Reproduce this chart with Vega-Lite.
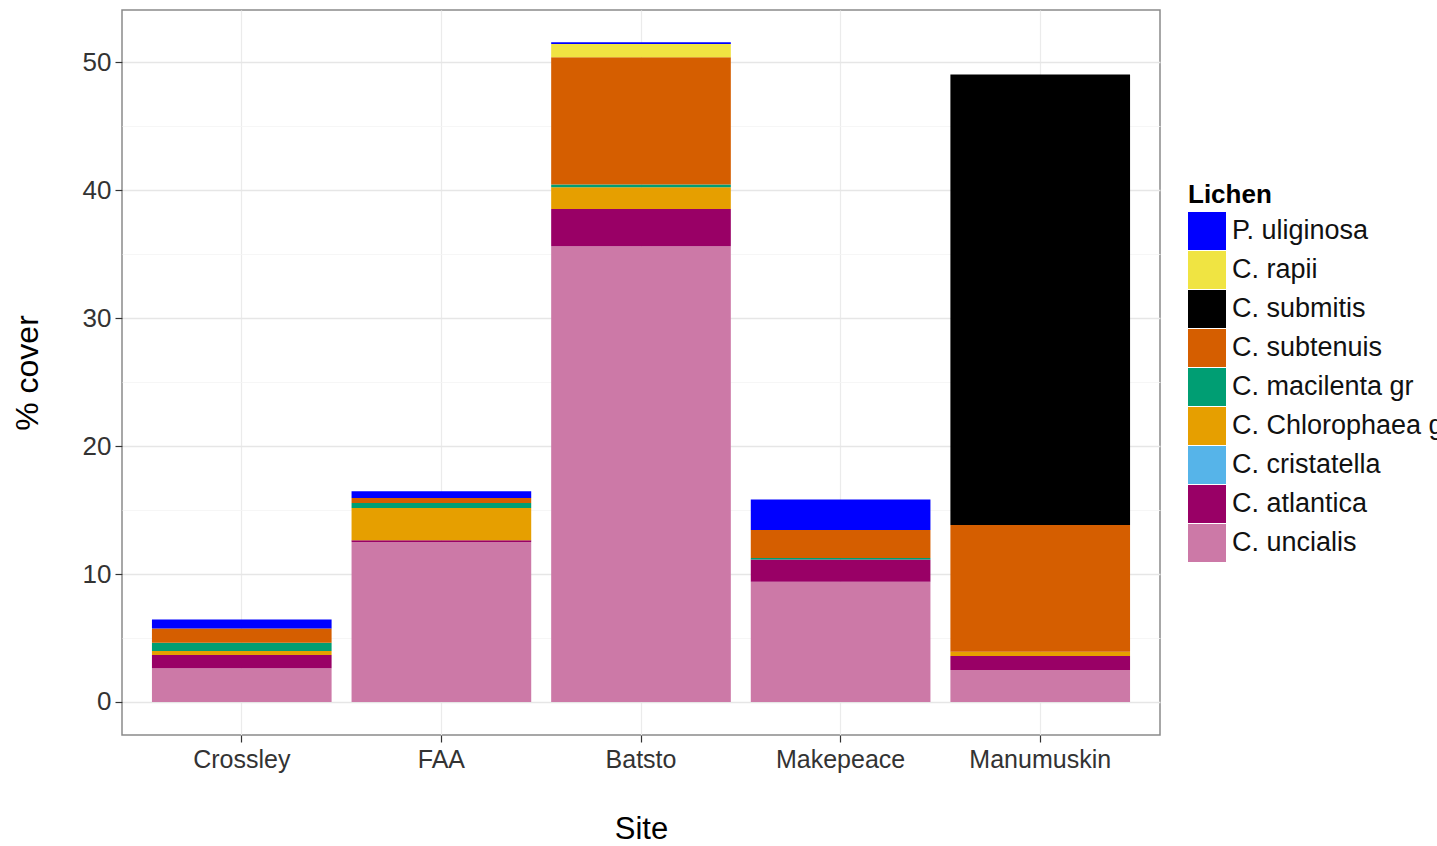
{
  "$schema": "https://vega.github.io/schema/vega-lite/v6.json",
  "width": 1038,
  "height": 725,
  "autosize": {"type": "none"},
  "padding": {"left": 122, "top": 10, "right": 277, "bottom": 111},
  "background": "white",
  "config": {
    "font": "Liberation Sans",
    "view": {"stroke": "#8a8a8a", "strokeWidth": 1.5}
  },
  "data": {
    "values": [
      {"Site": "Crossley", "Lichen": "C. uncialis", "cover": 2.63},
      {"Site": "Crossley", "Lichen": "C. atlantica", "cover": 1.04},
      {"Site": "Crossley", "Lichen": "C. Chlorophaea gr", "cover": 0.31},
      {"Site": "Crossley", "Lichen": "C. macilenta gr", "cover": 0.65},
      {"Site": "Crossley", "Lichen": "C. subtenuis", "cover": 1.12},
      {"Site": "Crossley", "Lichen": "P. uliginosa", "cover": 0.70},
      {"Site": "FAA", "Lichen": "C. uncialis", "cover": 12.5},
      {"Site": "FAA", "Lichen": "C. atlantica", "cover": 0.15},
      {"Site": "FAA", "Lichen": "C. Chlorophaea gr", "cover": 2.52},
      {"Site": "FAA", "Lichen": "C. macilenta gr", "cover": 0.39},
      {"Site": "FAA", "Lichen": "C. subtenuis", "cover": 0.39},
      {"Site": "FAA", "Lichen": "P. uliginosa", "cover": 0.52},
      {"Site": "Batsto", "Lichen": "C. uncialis", "cover": 35.63},
      {"Site": "Batsto", "Lichen": "C. atlantica", "cover": 2.91},
      {"Site": "Batsto", "Lichen": "C. Chlorophaea gr", "cover": 1.70},
      {"Site": "Batsto", "Lichen": "C. macilenta gr", "cover": 0.21},
      {"Site": "Batsto", "Lichen": "C. subtenuis", "cover": 9.95},
      {"Site": "Batsto", "Lichen": "C. rapii", "cover": 1.04},
      {"Site": "Batsto", "Lichen": "P. uliginosa", "cover": 0.13},
      {"Site": "Makepeace", "Lichen": "C. uncialis", "cover": 9.40},
      {"Site": "Makepeace", "Lichen": "C. atlantica", "cover": 1.75},
      {"Site": "Makepeace", "Lichen": "C. macilenta gr", "cover": 0.1},
      {"Site": "Makepeace", "Lichen": "C. subtenuis", "cover": 2.19},
      {"Site": "Makepeace", "Lichen": "P. uliginosa", "cover": 2.40},
      {"Site": "Manumuskin", "Lichen": "C. uncialis", "cover": 2.5},
      {"Site": "Manumuskin", "Lichen": "C. atlantica", "cover": 1.09},
      {"Site": "Manumuskin", "Lichen": "C. Chlorophaea gr", "cover": 0.34},
      {"Site": "Manumuskin", "Lichen": "C. subtenuis", "cover": 9.90},
      {"Site": "Manumuskin", "Lichen": "C. submitis", "cover": 35.23}
    ]
  },
  "transform": [
    {"calculate": "indexof(['C. uncialis','C. atlantica','C. cristatella','C. Chlorophaea gr','C. macilenta gr','C. subtenuis','C. submitis','C. rapii','P. uliginosa'], datum.Lichen)", "as": "stackOrder"}
  ],
  "mark": {"type": "bar"},
  "encoding": {
    "x": {
      "field": "Site",
      "type": "nominal",
      "sort": ["Crossley", "FAA", "Batsto", "Makepeace", "Manumuskin"],
      "scale": {"paddingInner": 0.1, "paddingOuter": 0.15},
      "axis": {
        "title": "Site",
        "labelAngle": 0,
        "bandPosition": 0.5,
        "domain": false,
        "grid": true,
        "gridColor": "#ebebeb",
        "gridWidth": 1.2,
        "tickColor": "#333333",
        "tickSize": 7,
        "tickWidth": 1.2,
        "labelFontSize": 25,
        "labelColor": "#333333",
        "labelPadding": 5,
        "titleFontSize": 31,
        "titleFontWeight": "normal",
        "titleColor": "#000000",
        "titlePadding": 42
      }
    },
    "y": {
      "field": "cover",
      "type": "quantitative",
      "stack": "zero",
      "scale": {"domain": [-2.58, 54.1], "nice": false, "zero": false},
      "axis": {
        "title": "% cover",
        "values": [0, 5, 10, 15, 20, 25, 30, 35, 40, 45, 50],
        "labelExpr": "datum.value % 10 === 0 ? datum.label : ''",
        "domain": false,
        "grid": true,
        "gridColor": {"condition": {"test": "datum.value % 10 === 0", "value": "#e6e6e6"}, "value": "#f4f4f4"},
        "gridWidth": {"condition": {"test": "datum.value % 10 === 0", "value": 1.3}, "value": 0.8},
        "tickColor": {"condition": {"test": "datum.value % 10 === 0", "value": "#333333"}, "value": "transparent"},
        "tickSize": 7,
        "tickWidth": 1.2,
        "labelFontSize": 26,
        "labelColor": "#333333",
        "labelPadding": 4,
        "titleFontSize": 32,
        "titleFontWeight": "normal",
        "titleColor": "#000000",
        "titlePadding": 38
      }
    },
    "color": {
      "field": "Lichen",
      "type": "nominal",
      "scale": {
        "domain": ["P. uliginosa", "C. rapii", "C. submitis", "C. subtenuis", "C. macilenta gr", "C. Chlorophaea gr", "C. cristatella", "C. atlantica", "C. uncialis"],
        "range": ["#0000FF", "#F0E442", "#000000", "#D55E00", "#009E73", "#E69F00", "#56B4E9", "#990066", "#CC79A7"]
      },
      "legend": {
        "title": "Lichen",
        "orient": "none",
        "legendX": 1066,
        "legendY": 172,
        "titleFontSize": 26,
        "titleFontWeight": "bold",
        "titleColor": "#000000",
        "titlePadding": 4,
        "symbolType": "square",
        "symbolSize": 1444,
        "symbolStrokeWidth": 0,
        "symbolOpacity": 1,
        "labelFontSize": 27,
        "labelColor": "#111111",
        "labelOffset": 6,
        "labelBaseline": "middle",
        "rowPadding": 1,
        "labelLimit": 400
      }
    },
    "order": {"field": "stackOrder", "type": "quantitative", "sort": "ascending"}
  }
}
